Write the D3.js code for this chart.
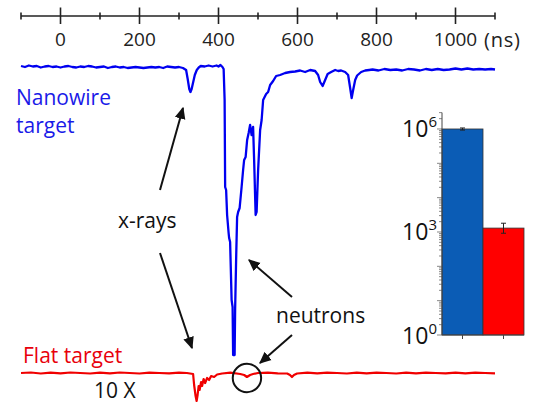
<!DOCTYPE html>
<html>
<head>
<meta charset="utf-8">
<script src="https://cdn.jsdelivr.net/npm/d3@7"></script>
<style>
  body { margin: 0; background: #fff; }
  text { font-family: "Open Sans", sans-serif; }
</style>
</head>
<body>
<svg id="chart" width="533" height="407"></svg>
<script>
/* time axis (ns) */
var majorTicks = [0, 200, 400, 600, 800, 1000];
var minorTicks = [-100, 100, 300, 500, 700, 900, 1100];

/* detector traces: [time ns, signal (arb. units, 0 = baseline)] */
var nanowireTrace = [
  [-100, 1], [-90, 0], [-80, 1.5], [-70, 0.5], [-60, 1], [-50, -0.5], [-40, 0.5], [-30, 1],
  [-20, 0], [-10, 0.5], [0, -0.5], [10, 0.5], [20, 1], [30, 0], [40, -0.5], [50, 0.5],
  [60, 0], [70, 1], [80, 0.5], [90, -0.5], [100, 0], [110, 0.5], [120, -1], [130, 0],
  [140, 0.5], [150, -0.5], [160, 0], [170, -1], [180, -0.5], [190, 0], [200, -0.5], [210, -1],
  [220, -0.5], [230, 0], [240, -0.5], [250, 0], [260, -1], [270, 0.5], [280, 0], [290, -0.5],
  [300, 0], [310, -1], [318, -3], [322, -12], [326, -22], [329, -25], [332, -22], [336, -15],
  [340, -8], [345, -3], [350, -0.5], [355, 1], [365, 0.5], [375, 1.5], [385, 0.5], [395, 1.5],
  [400, 0.5], [405, 2], [410, 0], [413, -2], [415.5, -33], [416.8, -120], [419.3, -123],
  [421.8, -148], [425.6, -166], [426.9, -171], [429.4, -175], [433.2, -233], [435.7, -240],
  [437, -288], [440.8, -288], [442.1, -243], [444.6, -193], [447.1, -150], [449.7, -145],
  [453.5, -141], [458.5, -120], [462.3, -103], [464.9, -93], [468.7, -90], [472.5, -73],
  [476.3, -66], [480, -58], [483.8, -68], [487.6, -60], [490.2, -93], [494, -148],
  [496.5, -145], [500.3, -103], [505.4, -63], [509.2, -53], [513, -33], [520.6, -27],
  [525.6, -25], [530.7, -18], [538.3, -14], [545.9, -9], [556, -8], [568.7, -6], [581.3, -5],
  [594, -4.5], [606.6, -3.5], [619.3, -5], [632, -3], [644.6, -4], [652.2, -8], [657.3, -15],
  [663.6, -19], [670, -13], [676.3, -7], [685.2, -5], [695.3, -3], [702.9, -4], [710.5, -3.5],
  [720.6, -5], [728.2, -8], [733.3, -21], [737.1, -31], [740.9, -23], [746, -13], [751, -8.5],
  [761.1, -5], [771.3, -3.5], [781.4, -3], [790, -2.5], [805, -3.5], [820, -2], [835, -3],
  [850, -2.5], [865, -3.5], [880, -2], [895, -2.5], [910, -3.5], [925, -2], [940, -3],
  [955, -2], [970, -3], [985, -2.5], [1000, -1.5], [1015, -2.5], [1030, -1.5], [1045, -2.5],
  [1060, -2], [1075, -2.5], [1090, -2], [1100, -2.5]
];
var flatTrace = [
  [-100, 0], [-75, 0.5], [-50, -0.5], [-25, 0.3], [0, -0.3], [25, 0.5], [50, 0], [75, -0.5],
  [100, 0.3], [125, -0.3], [150, 0.5], [175, 0], [200, -0.5], [225, 0.3], [250, 0], [275, -0.3],
  [300, 0.3], [320, 0], [335.7, -1], [338.3, -12], [342, -23], [344.6, -28], [347.1, -22],
  [349.7, -13], [352.2, -17], [356, -9], [358.5, -13], [362.3, -6], [366.1, -10], [371.2, -5],
  [376.2, -7], [381.3, -3], [388.9, -4], [396.5, -1.5], [409.2, -0.5], [430, 0.3], [455, -1],
  [465, -2], [472, -4], [480, -2], [487.6, -1], [500, 0], [525, 0.3], [550, -0.3], [573.8, -0.5],
  [581, -2], [586, -4], [591, -2], [599, -0.5], [625, 0.3], [650, -0.3], [675, 0.3], [700, 0],
  [725, -0.5], [750, 0.3], [775, -0.3], [800, 0.3], [825, 0], [850, -0.5], [875, 0.3],
  [900, -0.3], [925, 0.3], [950, 0], [975, -0.3], [1000, 0.3], [1025, -0.3], [1050, 0.3],
  [1075, 0], [1100, -0.3]
];

/* inset: neutron yield (log scale) */
var targets = ["Nanowire", "Flat"];
var yields = [1.0e6, 1.3e3];
var yieldLow = [0.93e6, 0.92e3];
var yieldHigh = [1.07e6, 1.8e3];
var yieldLabels = [1, 1e3, 1e6];
var barColors = ["#0b5cb5", "#ff0000"];

var svg = d3.select("#chart");

var x = d3.scaleLinear().domain([-100, 1100]).range([21, 495]);
var yBlue = d3.scaleLinear().domain([0, -288]).range([67, 355]);
var yRed = d3.scaleLinear().domain([0, -288]).range([373, 661]);

/* time axis at top: ticks cross the line */
var axisY = 16;
svg.append("line")
  .attr("x1", x(-100)).attr("x2", x(1100))
  .attr("y1", axisY).attr("y2", axisY)
  .attr("stroke", "#222").attr("stroke-width", 1.6);
svg.selectAll(".major")
  .data(majorTicks).enter().append("line")
  .attr("x1", function (d) { return x(d); }).attr("x2", function (d) { return x(d); })
  .attr("y1", axisY - 8.5).attr("y2", axisY + 8)
  .attr("stroke", "#222").attr("stroke-width", 1.6);
svg.selectAll(".minor")
  .data(minorTicks).enter().append("line")
  .attr("x1", function (d) { return x(d); }).attr("x2", function (d) { return x(d); })
  .attr("y1", axisY - 3.5).attr("y2", axisY + 3.5)
  .attr("stroke", "#222").attr("stroke-width", 1.6);
svg.selectAll(".tlab")
  .data(majorTicks).enter().append("text")
  .attr("x", function (d) { return x(d); })
  .attr("y", 46)
  .attr("text-anchor", "middle")
  .attr("font-size", 19)
  .attr("fill", "#222")
  .text(function (d) { return d; });
svg.append("text")
  .attr("x", 484).attr("y", 47)
  .attr("font-size", 20).attr("letter-spacing", 0.8)
  .attr("fill", "#222")
  .text("(ns)");

/* traces */
var blueLine = d3.line()
  .x(function (d) { return x(d[0]); })
  .y(function (d) { return yBlue(d[1]); });
var redLine = d3.line()
  .x(function (d) { return x(d[0]); })
  .y(function (d) { return yRed(d[1]); });

svg.append("path").datum(nanowireTrace)
  .attr("d", blueLine)
  .attr("fill", "none").attr("stroke", "#0000f0")
  .attr("stroke-width", 2.3).attr("stroke-linejoin", "round");
svg.append("path").datum(flatTrace)
  .attr("d", redLine)
  .attr("fill", "none").attr("stroke", "#f00000")
  .attr("stroke-width", 2.2).attr("stroke-linejoin", "round");

/* labels */
function label(txt, lx, ly, col) {
  svg.append("text")
    .attr("x", lx).attr("y", ly)
    .attr("font-size", 21).attr("fill", col)
    .text(txt);
}
label("Nanowire", 16, 105, "#1a1ae8");
label("target", 16, 133, "#1a1ae8");
label("x-rays", 118, 228, "#111");
label("neutrons", 276, 323, "#111");
label("Flat target", 23, 363, "#e8000b");
label("10 X", 94, 398, "#111");

/* arrows */
svg.append("defs").append("marker")
  .attr("id", "head")
  .attr("viewBox", "0 0 10 10")
  .attr("refX", 9).attr("refY", 5)
  .attr("markerWidth", 6).attr("markerHeight", 6)
  .attr("orient", "auto")
  .append("path").attr("d", "M0,0.5 L10,5 L0,9.5 z").attr("fill", "#111");

var arrows = [
  [160, 190, 183, 108],
  [160, 253, 192, 348],
  [292, 297, 249, 260],
  [292, 335, 260, 363]
];
svg.selectAll(".arrow")
  .data(arrows).enter().append("line")
  .attr("x1", function (d) { return d[0]; }).attr("y1", function (d) { return d[1]; })
  .attr("x2", function (d) { return d[2]; }).attr("y2", function (d) { return d[3]; })
  .attr("stroke", "#111").attr("stroke-width", 2)
  .attr("marker-end", "url(#head)");

/* circle around the neutron bump of the flat target */
svg.append("circle")
  .attr("cx", x(472)).attr("cy", 378).attr("r", 14.2)
  .attr("fill", "none").attr("stroke", "#111").attr("stroke-width", 2);

/* inset bar chart */
var bx = d3.scaleBand().domain(targets).range([442, 524]).padding(0);
var by = d3.scaleLog().domain([1, 3e6]).range([335, 112.6]);

var inset = svg.append("g");
inset.selectAll("rect")
  .data(targets).enter().append("rect")
  .attr("x", function (d) { return bx(d); })
  .attr("y", function (d, i) { return by(yields[i]); })
  .attr("width", bx.bandwidth())
  .attr("height", function (d, i) { return by(1) - by(yields[i]); })
  .attr("fill", function (d, i) { return barColors[i]; })
  .attr("stroke", "#333").attr("stroke-width", 0.8);

/* error bars */
inset.selectAll(".err")
  .data(targets).enter().append("path")
  .attr("d", function (d, i) {
    var cx = bx(d) + bx.bandwidth() / 2, t = by(yieldHigh[i]), b = by(yieldLow[i]);
    return "M" + (cx - 2.5) + "," + t + "H" + (cx + 2.5) + "M" + cx + "," + t + "V" + b +
      "M" + (cx - 2.5) + "," + b + "H" + (cx + 2.5);
  })
  .attr("fill", "none").attr("stroke", "#222").attr("stroke-width", 1);

/* y axis: every log tick, long ticks at decades */
var yAxis = inset.append("g").attr("transform", "translate(442,0)");
yAxis.append("line").attr("y1", by(3e6)).attr("y2", by(1))
  .attr("stroke", "#444").attr("stroke-width", 1);
yAxis.selectAll(".yt")
  .data(by.ticks()).enter().append("line")
  .attr("y1", function (d) { return by(d); }).attr("y2", function (d) { return by(d); })
  .attr("x1", function (d) {
    return Math.abs(Math.log10(d) - Math.round(Math.log10(d))) < 1e-6 ? -5 : -3;
  })
  .attr("x2", 0)
  .attr("stroke", "#555").attr("stroke-width", 0.7);
var yl = yAxis.selectAll(".yl")
  .data(yieldLabels).enter().append("text")
  .attr("x", -5)
  .attr("y", function (d) { return by(d) + 8.5; })
  .attr("text-anchor", "end")
  .attr("font-family", "Liberation Sans, Arial, sans-serif")
  .attr("font-size", 23)
  .attr("fill", "#111");
yl.append("tspan").text("10");
yl.append("tspan")
  .attr("font-size", 15).attr("dy", -10)
  .text(function (d) { return Math.round(Math.log10(d)); });

/* x axis of inset */
inset.append("line").attr("x1", 442).attr("x2", 524)
  .attr("y1", by(1)).attr("y2", by(1))
  .attr("stroke", "#444").attr("stroke-width", 1);
inset.selectAll(".xt")
  .data(targets).enter().append("line")
  .attr("x1", function (d) { return bx(d) + bx.bandwidth() / 2; })
  .attr("x2", function (d) { return bx(d) + bx.bandwidth() / 2; })
  .attr("y1", by(1)).attr("y2", by(1) + 4)
  .attr("stroke", "#444").attr("stroke-width", 1);
</script>
</body>
</html>
